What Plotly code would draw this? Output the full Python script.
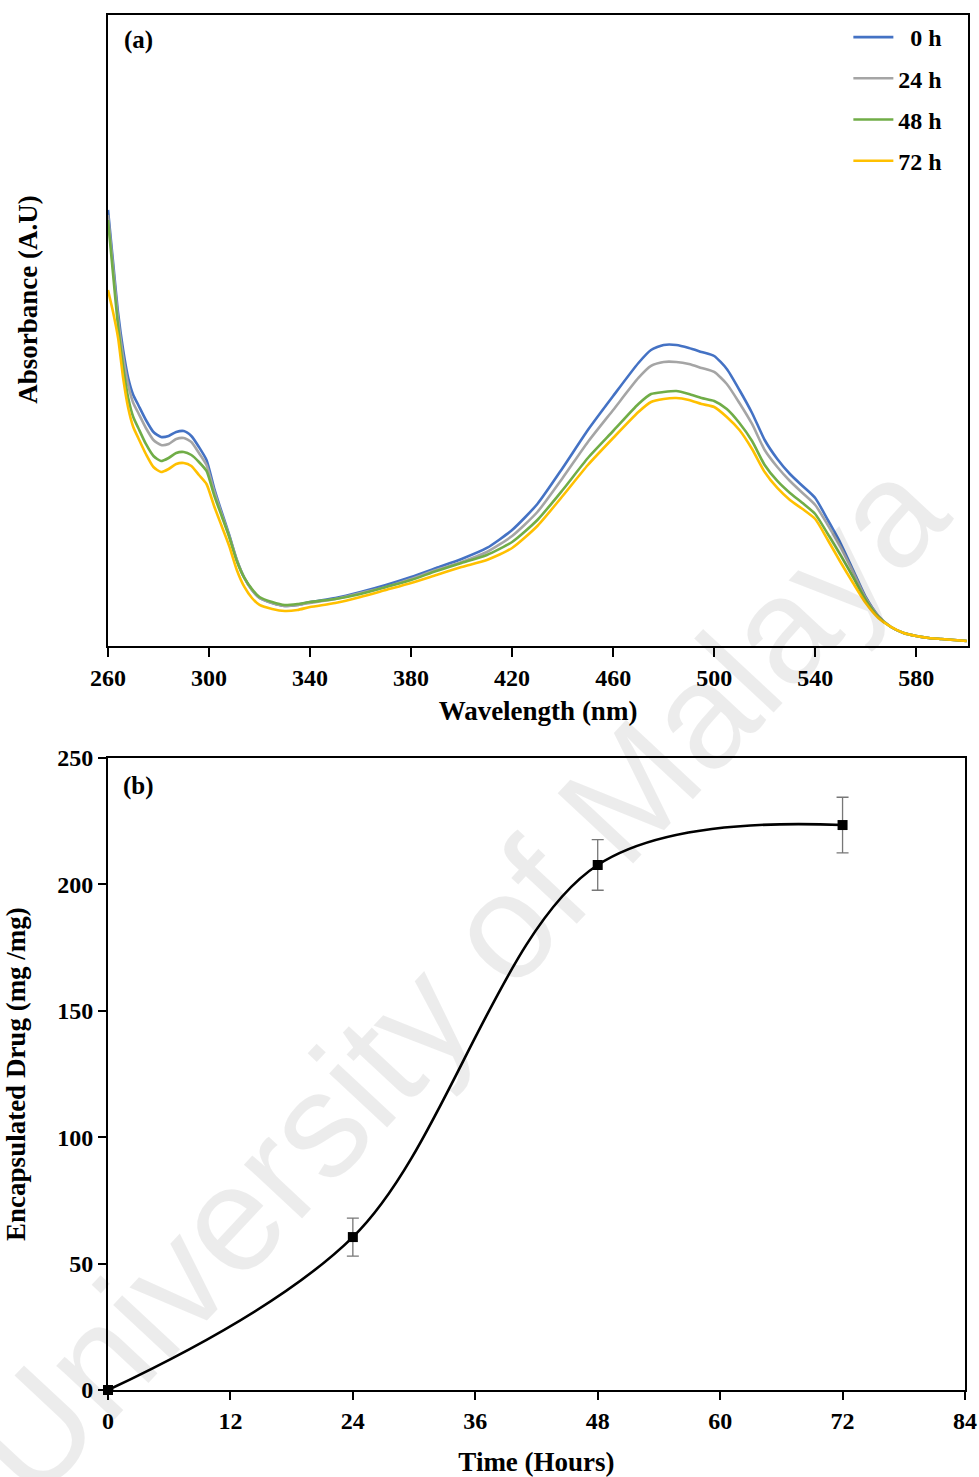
import plotly.graph_objects as go

# ---------------- Panel (a): UV-Vis spectra ----------------
wavelength = [260, 262, 264, 266, 268, 270, 272, 275, 278, 281, 284, 287, 290, 293, 296, 299,
              302, 305, 308, 311, 314, 317, 320, 325, 330, 335, 340, 350, 360, 370, 380, 390,
              400, 410, 420, 430, 440, 450, 460, 470, 475, 480, 485, 490, 495, 500, 505, 510,
              515, 520, 525, 530, 535, 540, 545, 550, 555, 560, 565, 570, 575, 580, 585, 590,
              595, 600]

abs_0h = [436, 384, 333, 296, 268, 251, 241, 226, 214, 209, 210, 214, 215, 210, 199, 186,
          158, 134, 111, 86, 68, 56, 48, 43, 40, 41, 44, 48, 54, 61, 69, 78,
          87, 98, 116, 142, 178, 216, 250, 283, 296, 301, 301, 298, 294, 290, 277, 256,
          233, 206, 187, 172, 160, 148, 126, 103, 76, 49, 30, 19, 13, 10, 8, 7,
          6, 5]

abs_24h = [431, 379, 327, 289, 261, 243, 233, 218, 206, 201, 202, 207, 208, 204, 193, 181,
           155, 132, 110, 86, 68, 56, 48, 43, 40, 41, 43, 47, 53, 59, 67, 76,
           84, 94, 110, 134, 168, 204, 236, 268, 280, 284, 284, 282, 278, 274, 262, 243,
           222, 196, 179, 165, 153, 141, 121, 99, 74, 48, 30, 19, 13, 10, 8, 7,
           6, 5]

abs_48h = [426, 372, 319, 279, 248, 229, 218, 202, 190, 185, 188, 193, 194, 191, 184, 175,
           151, 130, 109, 85, 68, 57, 49, 44, 41, 42, 44, 47, 52, 59, 66, 75,
           83, 91, 104, 126, 156, 188, 215, 242, 252, 254, 255, 252, 248, 245, 237, 223,
           205, 181, 165, 153, 143, 132, 112, 91, 69, 46, 29, 19, 13, 10, 8, 7,
           6, 5]

abs_72h = [356, 334, 308, 268, 238, 219, 208, 192, 179, 174, 177, 182, 183, 180, 171, 162,
           140, 120, 100, 76, 59, 48, 41, 37, 35, 36, 39, 43, 49, 56, 63, 71,
           79, 86, 98, 120, 150, 181, 208, 234, 244, 247, 248, 246, 242, 239, 229, 216,
           197, 174, 158, 146, 137, 127, 106, 84, 63, 43, 28, 19, 13, 10, 8, 7,
           6, 5]

series_names = ["\u00a0\u00a00 h", "24 h", "48 h", "72 h"]
series_values = [abs_0h, abs_24h, abs_48h, abs_72h]
series_colors = ["#4472C4", "#A5A5A5", "#70AD47", "#FFC000"]

wl_ticks = [260, 300, 340, 380, 420, 460, 500, 540, 580]

# ---------------- Panel (b): encapsulation vs time ----------------
time_h = [0, 24, 48, 72]
drug = [0, 60.5, 207.7, 223.5]
drug_err = [0, 7.5, 10, 11]
time_ticks = [0, 12, 24, 36, 48, 60, 72, 84]
drug_ticks = [0, 50, 100, 150, 200, 250]

SERIF = "Liberation Serif"
fig = go.Figure()

for name, vals, col in zip(series_names, series_values, series_colors):
    fig.add_trace(go.Scatter(
        x=wavelength, y=vals, mode="lines", name=name,
        line=dict(color=col, width=2.6, shape="spline", smoothing=0.6),
        xaxis="x", yaxis="y", legendgroup=name))

fig.add_trace(go.Scatter(
    x=time_h, y=drug, mode="lines",
    line=dict(color="black", width=2.6, shape="spline", smoothing=1.0),
    xaxis="x2", yaxis="y2", showlegend=False, cliponaxis=False))
fig.add_trace(go.Scatter(
    x=time_h, y=drug, mode="markers",
    marker=dict(symbol="square", size=10, color="black"),
    error_y=dict(type="data", array=drug_err, visible=True, color="#777777",
                 thickness=1.3, width=6),
    xaxis="x2", yaxis="y2", showlegend=False, cliponaxis=False))

axis_common = dict(showline=True, linecolor="black", linewidth=2, mirror=True,
                   showgrid=False, zeroline=False, automargin=False,
                   tickfont=dict(family=SERIF, size=24, color="black", weight="bold"))

title_font = dict(family=SERIF, size=27, color="black", weight="bold")

fig.update_layout(
    width=979, height=1477,
    margin=dict(l=108, r=11, t=15, b=87, autoexpand=False),
    paper_bgcolor="white", plot_bgcolor="white",
    xaxis=dict(domain=[0, 1], anchor="y", range=[260, 600.5],
               tickvals=wl_ticks, ticks="outside", ticklen=9, tickwidth=1.5,
               tickcolor="black",
               title=dict(text="Wavelength (nm)", standoff=11, font=title_font),
               **axis_common),
    yaxis=dict(domain=[0.5411, 1.0], anchor="x", range=[0, 631],
               showticklabels=False, ticks="",
               **axis_common),
    xaxis2=dict(domain=[0, 0.9965], anchor="y2", range=[0, 84],
                tickvals=time_ticks, ticks="outside", ticklen=8, tickwidth=1.5,
                tickcolor="black",
                title=dict(text="Time (Hours)", standoff=22, font=title_font),
                **axis_common),
    yaxis2=dict(domain=[0, 0.4596], anchor="x2", range=[0, 250],
                tickvals=drug_ticks, ticks="outside", ticklen=8, tickwidth=1.5,
                tickcolor="black",
                title=dict(text="Encapsulated Drug (mg /mg)", standoff=24, font=title_font),
                **axis_common),
    legend=dict(x=0.976, y=1.0, xanchor="right", yanchor="top",
                bgcolor="rgba(0,0,0,0)", traceorder="grouped", tracegroupgap=7,
                font=dict(family=SERIF, size=24, color="black", weight="bold"),
                itemwidth=40),
    showlegend=True,
)

# y title of panel (a), placed as in the reference (slightly above centre)
fig.add_annotation(text="Absorbance (A.U)", xref="paper", yref="paper",
                   x=-0.094, y=0.793, xanchor="center", yanchor="middle",
                   textangle=-90, showarrow=False, font=title_font)

fig.add_annotation(text="(a)", xref="paper", yref="paper", x=0.016, y=0.9818,
                   xanchor="left", yanchor="middle", showarrow=False,
                   font=dict(family=SERIF, size=25, color="black", weight="bold"))
fig.add_annotation(text="(b)", xref="paper", yref="paper", x=0.015, y=0.4393,
                   xanchor="left", yanchor="middle", showarrow=False,
                   font=dict(family=SERIF, size=25, color="black", weight="bold"))

# faint watermark (cut by the page edge, as in the reference)
fig.add_annotation(text="University of Malaya", xref="paper", yref="paper",
                   x=0.405, y=0.3, xanchor="center", yanchor="middle",
                   showarrow=False, textangle=-47,
                   font=dict(family="Liberation Sans", size=150, color="rgba(0,0,0,0.075)"))

fig.write_html("out.html")
